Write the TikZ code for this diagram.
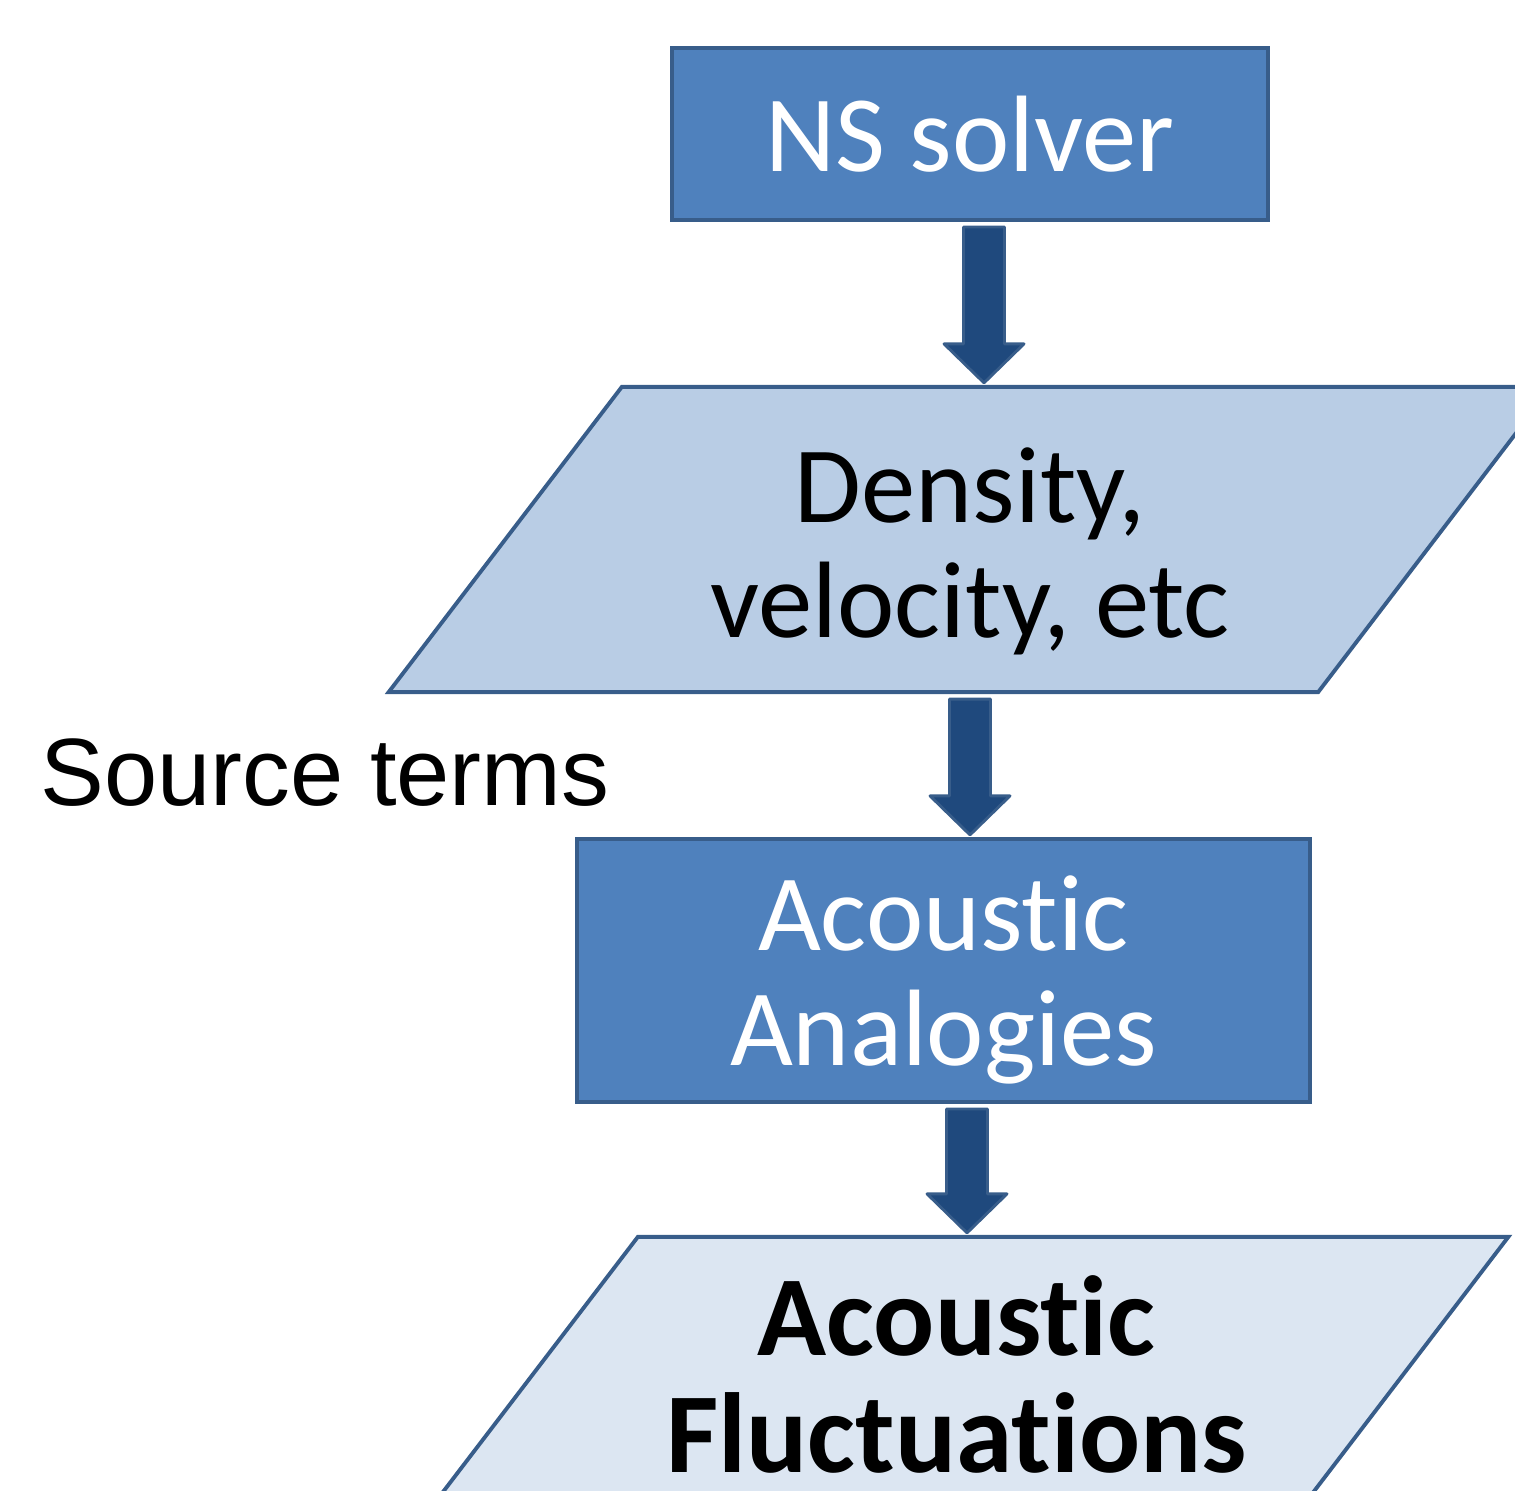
\documentclass[tikz,border=0pt]{standalone}
\usepackage{fontspec}
\setmainfont{Carlito}[Ligatures={NoCommon}]
\newfontfamily\labelfont{Liberation Sans}
\usetikzlibrary{calc}
\definecolor{procblue}{RGB}{79, 129, 189}
\definecolor{boxline}{RGB}{56, 93, 138}
\definecolor{arrowblue}{RGB}{31, 73, 125}
\definecolor{datablue}{RGB}{185, 205, 229}
\definecolor{resultblue}{RGB}{220, 230, 242}

\tikzset{
  procbox/.style={draw=boxline, fill=procblue, line width=1.1pt,
    inner sep=0pt, outer sep=0pt},
  datashape/.style={inner sep=0pt, outer sep=0pt, minimum height=3.05cm},
  dataline/.style={draw=boxline, line width=1.1pt, line join=miter},
  boxtext/.style={align=center, inner sep=0pt, font=\fontsize{30.9}{32.7}\selectfont},
  arrowbody/.style={draw=boxline, fill=arrowblue, line width=0.8pt, line join=round},
}

% block arrow from the bottom of one node to the top of the next
\newcommand{\blockarrow}[3][0cm]{%
  \draw[arrowbody] let \p1=(#2.south), \p2=(#3.north) in
    (\x1+#1-0.205cm, \y1-0.07cm) -- (\x1+#1+0.205cm, \y1-0.07cm)
    -- (\x1+#1+0.205cm, \y2+0.43cm) -- (\x1+#1+0.4cm, \y2+0.43cm)
    -- (\x1+#1, \y2+0.04cm)
    -- (\x1+#1-0.4cm, \y2+0.43cm) -- (\x1+#1-0.205cm, \y2+0.43cm) -- cycle;}

% slanted data shape filling the box of a node
\newcommand{\slantbox}[2]{%
  \draw[dataline, fill=#2] (#1.south west) -- ([xshift=-2.33cm]#1.south east)
    -- (#1.north east) -- ([xshift=2.33cm]#1.north west) -- cycle;}

\begin{document}
\begin{tikzpicture}[x=0.01cm, y=-0.01cm]
  \useasboundingbox (0,0) rectangle (1515,1491);
  \clip (0,0) rectangle (1515,1491);

  % shapes of the flow
  \node[procbox, minimum width=5.96cm, minimum height=1.72cm] (ns) at (970,134) {};
  \node[datashape, minimum width=11.62cm] (flow) at (970,539.5) {};
  \slantbox{flow}{datablue}
  \node[procbox, minimum width=7.33cm, minimum height=2.63cm] (analogy) at (943.5,970.5) {};
  \node[datashape, minimum width=11.03cm] (result) at (956.5,1389.5) {};
  \slantbox{result}{resultblue}

  % texts
  \node[boxtext, text=white] (nstext) at (ns.center) {NS solver};
  \node[boxtext] (flowtext) at ([yshift=-0.12cm]flow.center) {Density,\\velocity, etc};
  \node[boxtext, text=white] (analogytext) at ([yshift=-0.09cm]analogy.center)
    {Acoustic\\Analogies};
  \node[boxtext, font=\fontsize{32.4}{33.5}\selectfont\bfseries] (resulttext)
    at ([yshift=0.15cm]result.center) {Acoustic\\Fluctuations};

  \node[anchor=base west, inner sep=0pt, font=\labelfont\fontsize{27.2}{30}\selectfont]
    (source) at (40,805) {Source terms};

  \blockarrow[0.14cm]{ns}{flow}
  \blockarrow{flow}{analogy}
  \blockarrow[0.235cm]{analogy}{result}
\end{tikzpicture}
\end{document}
